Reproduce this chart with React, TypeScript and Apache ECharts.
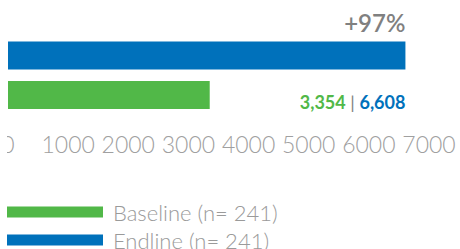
import React, { useEffect, useRef } from 'react';
import * as echarts from 'echarts';

const categories = ['Baseline', 'Endline'];
const sampleSizes = [241, 241];
const values = [3354, 6608];
const colors = ['#51B848', '#0071BB'];
const xTicks = [0, 1000, 2000, 3000, 4000, 5000, 6000, 7000];

export default function App() {
  const ref = useRef<HTMLDivElement>(null);
  useEffect(() => {
    if (!ref.current) return;
    const chart = echarts.init(ref.current, null, { renderer: 'svg' });
    const pct = Math.round((values[1] / values[0] - 1) * 100);
    const fmt = (v: number) => v.toLocaleString('en-US');
    const seriesNames = categories.map((c, i) => `${c} (n= ${sampleSizes[i]})`);
    chart.setOption({
      animation: false,
      grid: { left: 41, right: 31, top: 35.75, height: 79 },
      xAxis: {
        type: 'value',
        min: xTicks[0],
        max: xTicks[xTicks.length - 1],
        interval: xTicks[1] - xTicks[0],
        axisLine: { show: false },
        axisTick: { show: false },
        splitLine: { show: false },
        axisLabel: {
          margin: 18,
          fontFamily: 'Lato',
          fontSize: 23,
          fontWeight: 300,
          color: '#a0a0a0',
          formatter: (v: number) => String(v),
        },
      },
      yAxis: { type: 'category', data: categories, show: false },
      legend: {
        orient: 'vertical',
        left: 40,
        top: 201,
        padding: 0,
        itemWidth: 96,
        itemHeight: 11,
        itemGap: 6,
        icon: 'rect',
        data: seriesNames,
        textStyle: {
          fontFamily: 'Lato',
          fontSize: 22,
          lineHeight: 22,
          fontWeight: 300,
          color: '#9a9a9a',
          padding: [0, 0, 0, 5],
        },
      },
      series: categories.map((c, i) => ({
        name: seriesNames[i],
        type: 'bar',
        stack: 'one',
        barWidth: 28,
        itemStyle: { color: colors[i] },
        data: categories.map((_, j) => (j === i ? values[i] : '-')),
        label:
          i === 1
            ? {
                show: true,
                position: ['100%', '50%'],
                align: 'right',
                verticalAlign: 'middle',
                offset: [0, 4.5],
                formatter: `{a|+${pct}%}\n{s| }\n{g|${fmt(values[0])}}{p| | }{b|${fmt(values[1])}}`,
                rich: {
                  a: { fontFamily: 'Lato', fontSize: 24, lineHeight: 28, fontWeight: 600, color: '#808080' },
                  s: { fontSize: 10, lineHeight: 55 },
                  g: { fontFamily: 'Lato', fontSize: 18, lineHeight: 20, fontWeight: 'bold', color: colors[0] },
                  p: { fontFamily: 'Lato', fontSize: 18, lineHeight: 20, color: '#808080' },
                  b: { fontFamily: 'Lato', fontSize: 18, lineHeight: 20, fontWeight: 'bold', color: colors[1] },
                },
              }
            : { show: false },
      })),
    });
    return () => chart.dispose();
  }, []);
  return (
    <div style={{ position: 'absolute', left: 7, top: 0, width: 453, height: 249, overflow: 'hidden' }}>
      <div ref={ref} style={{ position: 'absolute', left: -40, top: 0, width: 493, height: 300 }} />
    </div>
  );
}
